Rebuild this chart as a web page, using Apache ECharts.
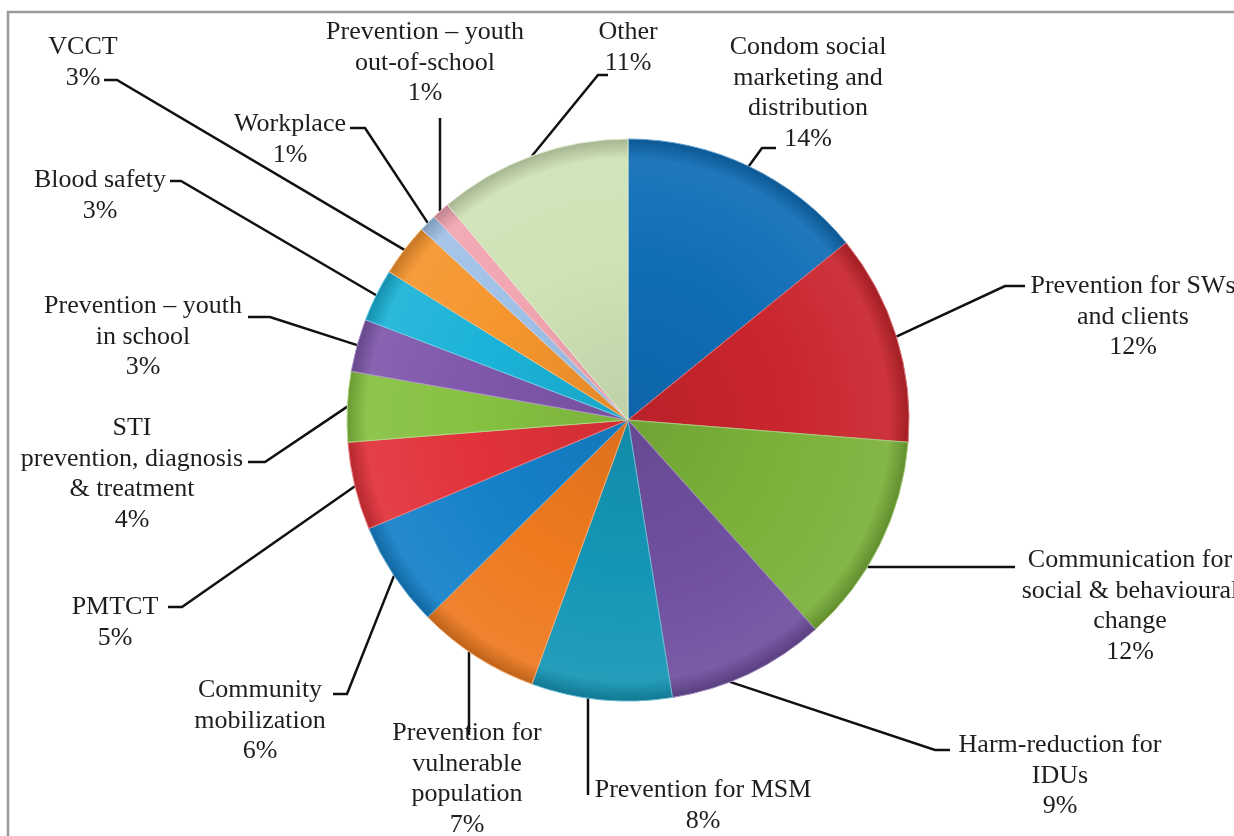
<!DOCTYPE html>
<html>
<head>
<meta charset="utf-8">
<title>HIV prevention spending by programme area</title>
<script src="https://cdn.jsdelivr.net/npm/echarts@6/dist/echarts.min.js"></script>
<style>
  html, body { margin: 0; padding: 0; background: #fff; }
  #chart { width: 1234px; height: 836px; }
</style>
</head>
<body>
<div id="chart"></div>
<script>
// Programme areas, clockwise from 12 o'clock
const categories = [
  'Condom social\nmarketing and\ndistribution',
  'Prevention for SWs\nand clients',
  'Communication for\nsocial & behavioural\nchange',
  'Harm-reduction for\nIDUs',
  'Prevention for MSM',
  'Prevention for\nvulnerable\npopulation',
  'Community\nmobilization',
  'PMTCT',
  'STI\nprevention, diagnosis\n& treatment',
  'Prevention – youth\nin school',
  'Blood safety',
  'VCCT',
  'Workplace',
  'Prevention – youth\nout-of-school',
  'Other'
];

// Share of spending, percent
const shares = [14, 12, 12, 9, 8, 7, 6, 5, 4, 3, 3, 3, 1, 1, 11];

// Slice colours
const sliceColors = [
  '#0f6db6', '#c9252d', '#7bb13a', '#6f4f9f', '#1596b6', '#ee7a1f',
  '#1581c9', '#e2323a', '#86c141', '#7f57ab', '#1bb3d8', '#f6952d',
  '#a0c1e7', '#f1a5b1', '#cfe2b5'
];

// Label placement: centre x, top y, leader bend and end points.
// anchor: where the leader meets the rim (default: slice mid-angle);
// { x } picks the rim point at that x, { y } the rim point at that y.
const labelPlacement = [
  { x: 808,  y: 32,  bend: [762, 148], end: [776, 148] },
  { x: 1133, y: 271, bend: [1005, 286], end: [1025, 286] },
  { x: 1130, y: 545, anchor: { y: 567, side: 1 }, bend: [1000, 567], end: [1015, 567] },
  { x: 1060, y: 730, anchor: { x: 730, side: 1 }, bend: [935, 750], end: [950, 750] },
  { x: 703,  y: 775, anchor: { x: 588, side: 1 }, bend: [588, 780], end: [588, 795] },
  { x: 467,  y: 718, anchor: { x: 469, side: 1 }, bend: [469, 720], end: [469, 735] },
  { x: 260,  y: 675, bend: [347, 694], end: [333, 694] },
  { x: 115,  y: 592, bend: [182, 607], end: [168, 607] },
  { x: 132,  y: 413, bend: [265, 462], end: [248, 462] },
  { x: 143,  y: 291, bend: [270, 317], end: [248, 317] },
  { x: 100,  y: 165, bend: [181, 181], end: [170, 181] },
  { x: 83,   y: 32,  bend: [117, 80],  end: [104, 80] },
  { x: 290,  y: 109, bend: [365, 128], end: [350, 128] },
  { x: 425,  y: 17,  anchor: { x: 440, side: -1 }, bend: [440, 130], end: [440, 118] },
  { x: 628,  y: 17,  bend: [598, 75],  end: [608, 75] }
];

const CX = 628, CY = 420, R = 281;

function rimPoint(a) {
  if (a.x !== undefined) {
    const dy = Math.sqrt(Math.max(0, R * R - (a.x - CX) * (a.x - CX)));
    return [a.x, CY + a.side * dy];
  }
  const dx = Math.sqrt(Math.max(0, R * R - (a.y - CY) * (a.y - CY)));
  return [CX + a.side * dx, a.y];
}

function shade(hex, k) {
  const n = parseInt(hex.slice(1), 16);
  const r = (n >> 16) & 255, g = (n >> 8) & 255, b = n & 255;
  const f = c => Math.max(0, Math.min(255, Math.round(k >= 0 ? c + (255 - c) * k : c * (1 + k))));
  return 'rgb(' + f(r) + ',' + f(g) + ',' + f(b) + ')';
}

const pieData = categories.map((name, i) => ({
  name: name,
  value: shares[i],
  itemStyle: {
    color: {
      type: 'radial', x: CX, y: CY, r: R, global: true,
      colorStops: [
        { offset: 0, color: shade(sliceColors[i], -0.08) },
        { offset: 0.55, color: sliceColors[i] },
        { offset: 0.93, color: shade(sliceColors[i], 0.07) },
        { offset: 1, color: shade(sliceColors[i], -0.2) }
      ]
    },
    borderColor: shade(sliceColors[i], 0.35),
    borderWidth: 1
  }
}));

const chart = echarts.init(document.getElementById('chart'), null, { renderer: 'canvas' });

chart.setOption({
  backgroundColor: '#ffffff',
  animation: false,
  graphic: [{
    type: 'rect',
    shape: { x: 8, y: 12, width: 1250, height: 860 },
    style: { fill: 'none', stroke: '#9a9a9a', lineWidth: 2.5 },
    silent: true
  }],
  series: [{
    type: 'pie',
    center: [CX, CY],
    radius: [0, R],
    startAngle: 90,
    clockwise: true,
    data: pieData,
    label: {
      show: true,
      position: 'outside',
      formatter: '{b}\n{c}%',
      fontFamily: '"Liberation Serif", "DejaVu Serif", serif',
      fontSize: 26,
      lineHeight: 30.5,
      color: '#1e1e1e',
      align: 'center'
    },
    labelLine: {
      show: true,
      lineStyle: { color: '#111111', width: 2.5 }
    },
    labelLayout: function (params) {
      const p = labelPlacement[params.dataIndex];
      let start = params.labelLinePoints ? params.labelLinePoints[0] : p.bend;
      if (p.anchor) start = rimPoint(p.anchor);
      return {
        x: p.x,
        y: p.y,
        align: 'center',
        verticalAlign: 'top',
        labelLinePoints: [start, p.bend, p.end]
      };
    }
  }]
});
</script>
</body>
</html>
